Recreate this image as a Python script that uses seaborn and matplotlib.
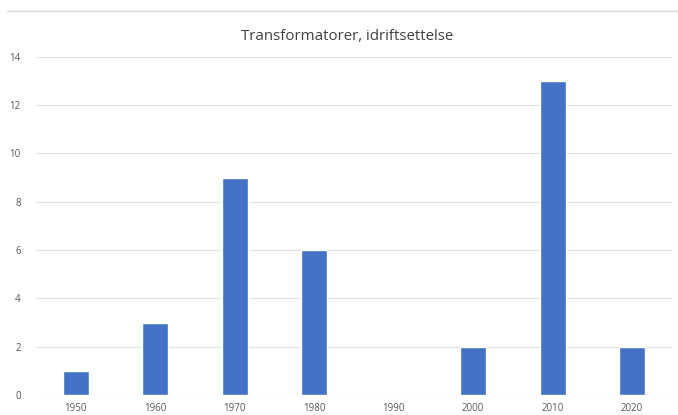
import matplotlib
matplotlib.use("Agg")
import matplotlib.pyplot as plt
import seaborn as sns
import pandas as pd
from matplotlib.lines import Line2D

years = ["1950", "1960", "1970", "1980", "1990", "2000", "2010", "2020"]
counts = [1, 3, 9, 6, 0, 2, 13, 2]
yticks = [0, 2, 4, 6, 8, 10, 12, 14]
title = "Transformatorer, idriftsettelse"

sns.set_theme(style="white")
plt.rcParams['font.family'] = ['Open Sans', 'DejaVu Sans']

df = pd.DataFrame({"year": years, "count": counts})

fig = plt.figure(figsize=(6.78, 4.15), dpi=100)
ax = fig.add_axes([0.053, 0.048, 0.938, 0.815])
sns.barplot(data=df, x="year", y="count", color="#4472C4", saturation=1,
            width=0.33, ax=ax, zorder=3)
ax.set_ylim(0, 14)
ax.set_yticks(yticks)
ax.set_yticklabels([str(v) for v in yticks])
ax.yaxis.grid(True, color="#E3E3E3", linewidth=0.9, zorder=0)
ax.xaxis.grid(False)
for s in ax.spines.values():
    s.set_visible(False)
ax.set_xlabel("")
ax.set_ylabel("")
ax.tick_params(axis="both", length=0, labelsize=7, labelcolor="#595959", pad=6)
ax.tick_params(axis="y", pad=11)
ax.set_title(title, fontsize=10.8, color="#404040", pad=12, x=0.489)
fig.add_artist(Line2D([7/678, 1], [1 - 11/415, 1 - 11/415], color="#D9D9D9", linewidth=1))
fig.savefig("out.png", dpi=100)
